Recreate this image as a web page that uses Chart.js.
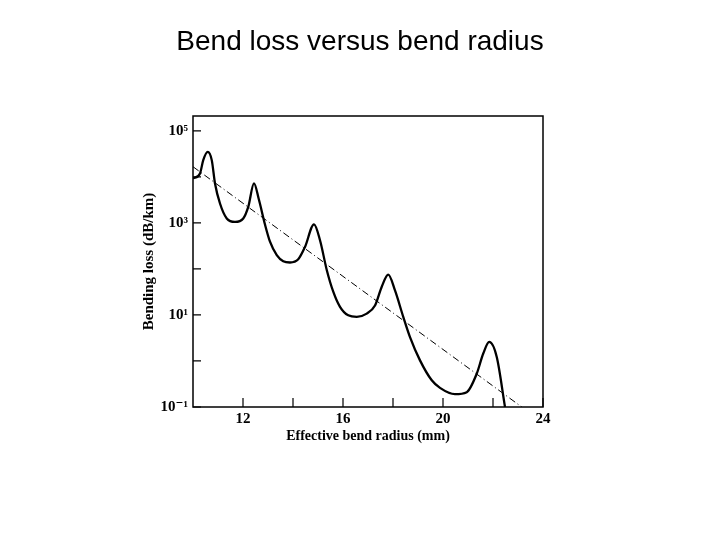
<!DOCTYPE html>
<html>
<head>
<meta charset="utf-8">
<script src="https://cdn.jsdelivr.net/npm/chart.js@4"></script>
<style>
  body { margin: 0; background: #fff; }
</style>
</head>
<body>
<canvas id="grafico" width="720" height="540"></canvas>
<script>
// radius in mm, loss in dB/km
const radius = [10.0, 10.28, 10.41, 10.59, 10.75, 10.88, 11.08, 11.35, 11.68, 12.01, 12.21, 12.44,
  12.63, 12.88, 13.08, 13.35, 13.61, 13.88, 14.21, 14.48, 14.84, 15.08, 15.35, 15.61, 15.88,
  16.21, 16.55, 16.95, 17.28, 17.55, 17.81, 18.08, 18.41, 18.68, 19.08, 19.55, 19.88, 20.48,
  20.95, 21.35, 21.61, 21.85, 22.15, 22.48];
const loss = [9230, 11900, 23100, 34900, 23100, 7200, 2640, 1250, 1050, 1250, 2230, 7200,
  3300, 920, 390, 200, 147, 138, 162, 300, 930, 420, 95, 32, 15,
  9.8, 9.1, 10.7, 16, 41, 75, 34, 9.1, 3.3, 1.03, 0.38, 0.26, 0.19,
  0.21, 0.53, 1.45, 2.59, 1.22, 0.1];

// straight trend line (dash-dot)
const trendRadius = [10.0, 23.15];
const trendLoss = [16600, 0.1];

const xTicks = [12, 14, 16, 18, 20, 22, 24];
const xLabels = [12, 16, 20, 24];
const yTickExps = [-1, 0, 1, 2, 3, 4, 5];
const yLabels = { '-1': '10⁻¹', '1': '10¹', '3': '10³', '5': '10⁵' };

const serifFamily = "'Liberation Serif', 'DejaVu Serif', serif";
const tickFont = { family: serifFamily, size: 15, weight: 'bold' };
const xTitleFont = { family: serifFamily, size: 14, weight: 'bold' };
const yTitleFont = { family: serifFamily, size: 15, weight: 'bold' };

// frame + inward tick marks
const frameTicks = {
  id: 'frameTicks',
  afterDatasetsDraw(chart) {
    const { ctx, chartArea: a, scales } = chart;
    ctx.save();
    ctx.strokeStyle = '#000';
    ctx.lineWidth = 1.5;
    ctx.strokeRect(a.left, a.top, a.right - a.left, a.bottom - a.top);
    ctx.lineWidth = 1.2;
    ctx.beginPath();
    yTickExps.forEach(e => {
      const py = scales.y.getPixelForValue(Math.pow(10, e));
      ctx.moveTo(a.left, py);
      ctx.lineTo(a.left + 8, py);
    });
    xTicks.forEach(v => {
      const px = scales.x.getPixelForValue(v);
      ctx.moveTo(px, a.bottom);
      ctx.lineTo(px, a.bottom - 9);
    });
    ctx.stroke();
    ctx.restore();
  }
};

const ctx = document.getElementById('grafico').getContext('2d');
const myChart = new Chart(ctx, {
  type: 'line',
  data: {
    datasets: [{
      data: radius.map((r, i) => ({ x: r, y: loss[i] })),
      borderColor: '#000',
      borderWidth: 2.3,
      pointRadius: 0,
      cubicInterpolationMode: 'monotone'
    }, {
      data: trendRadius.map((r, i) => ({ x: r, y: trendLoss[i] })),
      borderColor: '#000',
      borderWidth: 1,
      borderDash: [7, 3, 1, 3],
      pointRadius: 0,
      tension: 0
    }]
  },
  options: {
    responsive: false,
    animation: false,
    layout: { padding: { left: 0, right: 0, top: 0, bottom: 93 } },
    plugins: {
      legend: { display: false },
      tooltip: { enabled: false },
      title: {
        display: true,
        text: 'Bend loss versus bend radius',
        color: '#000',
        font: { family: "'Liberation Sans', Arial, sans-serif", size: 28, weight: 'normal' },
        padding: { top: 25, bottom: 57.4 }
      }
    },
    scales: {
      x: {
        type: 'linear',
        min: 10,
        max: 24,
        grid: { display: false, drawTicks: false },
        border: { display: false },
        afterBuildTicks: s => { s.ticks = xTicks.map(v => ({ value: v })); },
        afterFit: s => { s.height = 40; },
        ticks: {
          color: '#000',
          font: tickFont,
          padding: 3,
          maxRotation: 0,
          autoSkip: false,
          callback: v => xLabels.includes(v) ? String(v) : ''
        },
        title: {
          display: true,
          text: 'Effective bend radius (mm)',
          color: '#000',
          font: xTitleFont,
          padding: { top: 0, bottom: 2 }
        }
      },
      y: {
        type: 'logarithmic',
        min: 0.1,
        max: 2.1e5,
        grid: { display: false, drawTicks: false },
        border: { display: false },
        afterBuildTicks: s => { s.ticks = yTickExps.map(e => ({ value: Math.pow(10, e) })); },
        afterFit: s => { s.width = 193; },
        ticks: {
          color: '#000',
          font: tickFont,
          padding: 5,
          autoSkip: false,
          callback: v => yLabels[String(Math.round(Math.log10(v)))] || ''
        },
        title: {
          display: true,
          text: 'Bending loss (dB/km)',
          color: '#000',
          font: yTitleFont,
          padding: { top: 140, bottom: 0 }
        }
      },
      y2: {
        type: 'linear',
        position: 'right',
        min: 0,
        max: 1,
        grid: { display: false },
        border: { display: false },
        ticks: { display: false },
        afterFit: s => { s.width = 177; }
      }
    }
  },
  plugins: [frameTicks]
});
</script>
</body>
</html>
